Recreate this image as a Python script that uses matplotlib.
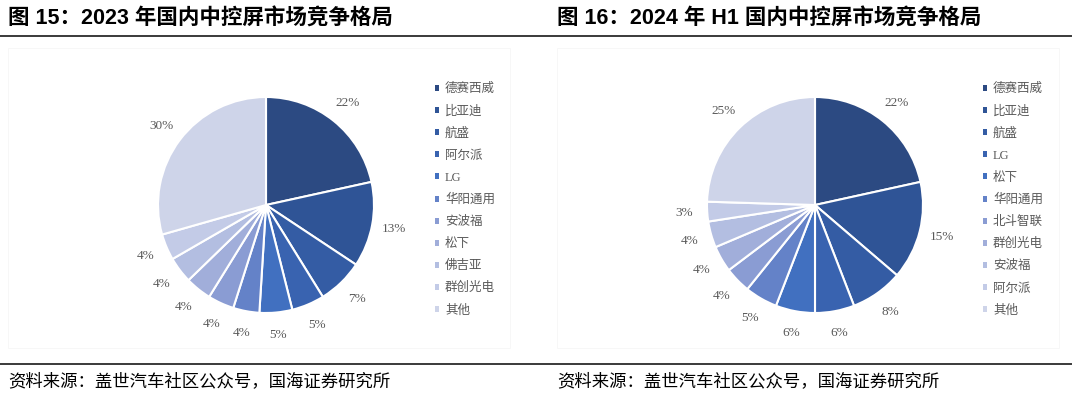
import matplotlib
matplotlib.use('Agg')
import matplotlib.pyplot as plt
from matplotlib.patches import Rectangle
from matplotlib.lines import Line2D

# 2023 data
names_2023 = ['德赛西威', '比亚迪', '航盛', '阿尔派', 'LG', '华阳通用', '安波福', '松下', '佛吉亚', '群创光电', '其他']
share_2023 = [22, 13, 7, 5, 5, 4, 4, 4, 4, 4, 30]

# 2024 H1 data
names_2024 = ['德赛西威', '比亚迪', '航盛', 'LG', '松下', '华阳通用', '北斗智联', '群创光电', '安波福', '阿尔派', '其他']
share_2024 = [22, 15, 8, 6, 6, 5, 4, 4, 4, 3, 25]

titles = ['图 15：2023 年国内中控屏市场竞争格局', '图 16：2024 年 H1 国内中控屏市场竞争格局']
source = '资料来源：盖世汽车社区公众号，国海证券研究所'

colors = ['#2C4A82', '#2F5496', '#345CA4', '#3963B0', '#4170C0', '#6482C8',
          '#8A9CD3', '#A1AEDA', '#B3BEE1', '#C3CBE7', '#CED4E9']

W, H = 1080, 399
fig = plt.figure(figsize=(W / 100, H / 100), dpi=100)

cjk = ['Noto Sans CJK SC', 'DejaVu Sans']
serif_cjk = ['Liberation Serif', 'Noto Sans CJK SC']
title_font = ['Liberation Sans', 'Noto Sans CJK SC']


def px(x, y):
    return x / W, 1 - y / H


R = 108
panels = [(266, 205, 8, 440, names_2023, share_2023),
          (815, 205, 557, 988, names_2024, share_2024)]

for i, (cx, cy, tx, lx, names, vals) in enumerate(panels):
    s = 1.25 * R
    ax = fig.add_axes([(cx - s) / W, (H - cy - s) / H, 2 * s / W, 2 * s / H])
    wedges, texts = ax.pie(vals, labels=[f'{v}%' for v in vals], colors=colors,
                           startangle=90, counterclock=False, labeldistance=1.21,
                           wedgeprops=dict(edgecolor='white', linewidth=1.5),
                           textprops=dict(color='#595959', fontsize=9.5,
                                          family='Liberation Serif', ha='center', va='center'))
    ax.set_aspect('equal')

    handles = [Rectangle((0, 0), 1, 1, facecolor=c, edgecolor='none') for c in colors]
    fig.legend(handles, names, loc='upper left', bbox_to_anchor=px(lx - 5, 83),
               frameon=False, handlelength=0.35, handleheight=0.35, handletextpad=0.45,
               labelspacing=0.8, borderpad=0, borderaxespad=0,
               prop=dict(family=serif_cjk, size=9), labelcolor='#595959')

    # faint panel frame
    fig.patches.append(Rectangle(px(tx, 348), 502 / W, 300 / H,
                                 transform=fig.transFigure, fill=False,
                                 edgecolor='#F6F6F6', linewidth=0.6))

    fig.text(*px(tx, 19), titles[i], fontsize=15.5, fontweight='bold',
             family=title_font, va='center', ha='left', color='black')
    fig.text(*px(tx, 381), source, fontsize=12.5, family=cjk,
             va='center', ha='left', color='black')

for y in (36, 364):
    fig.add_artist(Line2D([0, 1071 / W], [1 - y / H] * 2, transform=fig.transFigure,
                          color='#3A3A3A', linewidth=1.4))

fig.savefig('out.png', dpi=100)
